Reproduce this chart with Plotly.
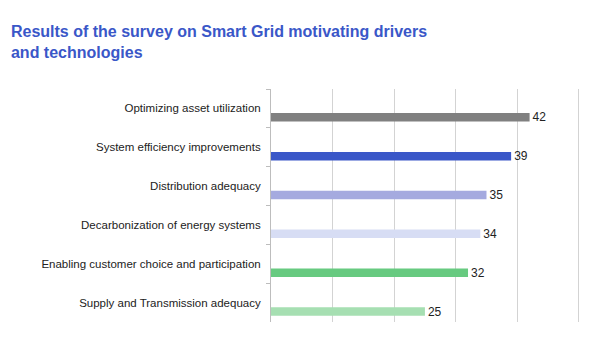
import plotly.graph_objects as go

categories = [
    "Optimizing asset utilization",
    "System efficiency improvements",
    "Distribution adequacy",
    "Decarbonization of energy systems",
    "Enabling customer choice and participation",
    "Supply and Transmission adequacy",
]
values = [42, 39, 35, 34, 32, 25]
colors = ["#808080", "#3A57C8", "#A5AADF", "#D7DDF4", "#67CA80", "#A6DFB2"]
x_ticks = [0, 10, 20, 30, 40, 50]

FONT = "Liberation Sans, Arial, sans-serif"

fig = go.Figure(go.Bar(
    x=values,
    y=categories,
    orientation="h",
    marker=dict(color=colors, line=dict(width=0)),
    width=0.22,
    offset=0.12,
    text=[str(v) for v in values],
    textposition="outside",
    constraintext="none",
    textfont=dict(family=FONT, size=12, color="#222222"),
    cliponaxis=False,
))

# page body has an 8px margin, so the figure is sized/positioned to compensate
fig.update_layout(
    width=592, height=352,
    margin=dict(l=263, r=15, t=81, b=38),
    paper_bgcolor="white", plot_bgcolor="white",
    showlegend=False,
    title=dict(
        text="<b>Results of the survey on Smart Grid motivating drivers<br>and technologies</b>",
        x=0.005, xanchor="left", y=0.918, yanchor="top",
        font=dict(family=FONT, size=16, color="#3A57C8"),
    ),
    xaxis=dict(
        range=[0, 51], tickvals=x_ticks, showticklabels=False,
        showgrid=True, gridcolor="#D3D3D3", gridwidth=1,
        zeroline=False, showline=False, ticks="",
    ),
    yaxis=dict(
        autorange="reversed",
        showline=True, linecolor="#BDBDBD", linewidth=1,
        ticks="outside", tickson="boundaries", ticklen=4, tickcolor="#BDBDBD",
        showgrid=False,
        tickfont=dict(family=FONT, size=11.5, color="#222222"),
        ticklabelstandoff=7,
    ),
)

fig.write_html("out.html")
